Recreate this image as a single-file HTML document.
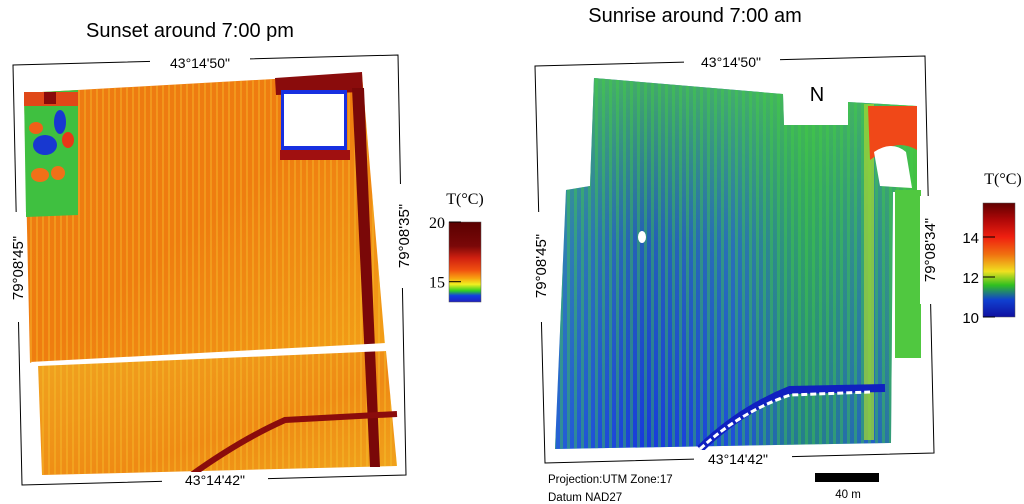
<!DOCTYPE html>
<html><head><meta charset="utf-8"><style>
html,body{margin:0;padding:0;background:#fff;width:1024px;height:504px;overflow:hidden}
svg{display:block;font-family:"Liberation Sans",sans-serif}
.serif{font-family:"Liberation Serif",serif}
</style></head><body>
<svg width="1024" height="504" viewBox="0 0 1024 504">
<defs>
<linearGradient id="warm" x1="0" y1="0" x2="1" y2="1">
<stop offset="0" stop-color="#ee7a12"/><stop offset="0.5" stop-color="#ef7d10"/><stop offset="1" stop-color="#f2a018"/></linearGradient>
<linearGradient id="warm2" x1="0" y1="0" x2="1" y2="1">
<stop offset="0" stop-color="#f0a420"/><stop offset="0.6" stop-color="#ef8a14"/><stop offset="1" stop-color="#f0a41c"/></linearGradient>
<linearGradient id="cool" x1="0" y1="0" x2="1" y2="0">
<stop offset="0" stop-color="#2c70d8"/><stop offset="0.25" stop-color="#1a3ce0"/><stop offset="0.5" stop-color="#2258dc"/><stop offset="0.7" stop-color="#2c9a70"/><stop offset="0.88" stop-color="#2a70c0"/><stop offset="1" stop-color="#40c040"/></linearGradient>
<linearGradient id="coolv" x1="0" y1="0" x2="0" y2="1">
<stop offset="0" stop-color="#50d040" stop-opacity="0.75"/><stop offset="0.45" stop-color="#40c040" stop-opacity="0.25"/><stop offset="1" stop-color="#1030d0" stop-opacity="0.25"/></linearGradient>
<pattern id="rowsW" width="6" height="10" patternUnits="userSpaceOnUse"><rect width="2" height="10" fill="#f6c830" opacity="0.35"/></pattern>
<pattern id="rowsC" width="7" height="10" patternUnits="userSpaceOnUse"><rect width="3" height="10" fill="#40d040" opacity="0.4"/></pattern>
<linearGradient id="cb1" x1="0" y1="0" x2="0" y2="1">
<stop offset="0" stop-color="#5a0000"/><stop offset="0.3" stop-color="#7a0808"/><stop offset="0.45" stop-color="#d02010"/><stop offset="0.6" stop-color="#f05010"/><stop offset="0.7" stop-color="#f8a010"/><stop offset="0.78" stop-color="#f0f020"/><stop offset="0.86" stop-color="#30d020"/><stop offset="0.92" stop-color="#1040e0"/><stop offset="1" stop-color="#2020c0"/></linearGradient>
<linearGradient id="cb2" x1="0" y1="0" x2="0" y2="1">
<stop offset="0" stop-color="#600000"/><stop offset="0.15" stop-color="#b00808"/><stop offset="0.3" stop-color="#f02010"/><stop offset="0.45" stop-color="#f07010"/><stop offset="0.6" stop-color="#f0e020"/><stop offset="0.72" stop-color="#30c020"/><stop offset="0.85" stop-color="#1040d0"/><stop offset="1" stop-color="#1010a0"/></linearGradient>
</defs>

<text x="190" y="37" font-size="20" text-anchor="middle">Sunset around 7:00 pm</text>
<text x="695" y="22" font-size="20" text-anchor="middle">Sunrise around 7:00 am</text>

<g>
<polygon points="13,65 398,55 406,475 22,485 13,65" fill="none" stroke="#000" stroke-width="1"/>
<polygon points="24,93 362,74 385,345 30,363" fill="url(#warm)"/>
<polygon points="38,364 386,351 397,466 42,475" fill="url(#warm2)"/>
<polygon points="24,93 362,74 385,345 30,363" fill="url(#rowsW)"/>
<polygon points="38,364 386,351 397,466 42,475" fill="url(#rowsW)"/>
<polygon points="24,93 78,90 78,215 26,217" fill="#3fc040"/>
<ellipse cx="45" cy="145" rx="12" ry="10" fill="#1838d0"/><ellipse cx="60" cy="122" rx="6" ry="12" fill="#1838d0"/>
<ellipse cx="36" cy="128" rx="7" ry="6" fill="#f06018"/><ellipse cx="68" cy="140" rx="6" ry="8" fill="#e83818"/>
<ellipse cx="40" cy="175" rx="9" ry="7" fill="#f07018"/><ellipse cx="58" cy="173" rx="7" ry="7" fill="#f07018"/>
<rect x="24" y="92" width="54" height="14" fill="#e04818"/><rect x="44" y="92" width="12" height="12" fill="#8a0a0a"/>
<polygon points="275,78 362,72 363,92 276,95" fill="#8a0c0c"/>
<rect x="281" y="90" width="66" height="60" fill="#1830e0"/>
<rect x="284" y="94" width="60" height="52" fill="#fff"/>
<rect x="280" y="150" width="70" height="10" fill="#a01010"/>
<polygon points="352,88 364,88 380,467 370,467" fill="#7a0808"/>
<path d="M190,476 Q240,440 285,420 L397,414" stroke="#8a0c0c" stroke-width="6" fill="none"/>
<polygon points="30,362 386,343 386,351 38,366" fill="#fff"/>
<rect x="150" y="55" width="100" height="15" fill="#fff"/>
<text x="200" y="68" font-size="14" text-anchor="middle">43°14'50"</text>
<rect x="162" y="472" width="106" height="15" fill="#fff"/>
<text x="215" y="485" font-size="14" text-anchor="middle">43°14'42"</text>
<rect x="8" y="212" width="18" height="110" fill="#fff"/>
<text x="0" y="0" font-size="15" text-anchor="middle" transform="translate(23,268) rotate(-90)">79°08'45"</text>
<rect x="394" y="184" width="18" height="104" fill="#fff"/>
<text x="0" y="0" font-size="15" text-anchor="middle" transform="translate(409,236) rotate(-90)">79°08'35"</text>
</g>

<g id="cbar1">
<text x="465" y="204" font-size="16" text-anchor="middle" class="serif">T(°C)</text>
<rect x="449" y="222" width="32" height="80" fill="url(#cb1)" stroke="#555" stroke-width="0.5"/>
</g>

<g>
<polygon points="535,66 925,56 934,453 545,463 535,66" fill="none" stroke="#000" stroke-width="1"/>
<polygon points="594,78 783,94 784,125 848,125 848,102 917,106 917,192 893,192 891,443 555,449 566,190 590,186" fill="url(#cool)"/>
<polygon points="594,78 783,94 784,125 848,125 848,102 917,106 917,192 893,192 891,443 555,449 566,190 590,186" fill="url(#coolv)"/>
<polygon points="594,78 783,94 784,125 848,125 848,102 917,106 917,192 893,192 891,443 555,449 566,190 590,186" fill="url(#rowsC)"/>
<rect x="895" y="190" width="26" height="168" fill="#50c840"/>
<rect x="864" y="104" width="10" height="336" fill="#a0d830" opacity="0.75"/>
<path d="M868,106 L917,106 L917,150 Q900,140 884,150 L870,160 Z" fill="#f04818"/>
<path d="M874,152 Q892,140 906,152 L912,188 L880,186 Z" fill="#fff"/>
<path d="M700,449 Q740,410 790,390 L885,388" stroke="#1020c0" stroke-width="8" fill="none"/>
<path d="M700,449 Q740,412 790,395 L870,392" stroke="#fff" stroke-width="3" fill="none" stroke-dasharray="6 3"/>
<ellipse cx="642" cy="237" rx="4" ry="6" fill="#fff"/>
<text x="817" y="101" font-size="20" text-anchor="middle">N</text>
<rect x="684" y="55" width="96" height="15" fill="#fff"/>
<text x="731" y="67" font-size="14" text-anchor="middle">43°14'50"</text>
<rect x="694" y="450" width="98" height="15" fill="#fff"/>
<text x="738" y="464" font-size="14" text-anchor="middle">43°14'42"</text>
<rect x="531" y="212" width="18" height="110" fill="#fff"/>
<text x="0" y="0" font-size="15" text-anchor="middle" transform="translate(546,266) rotate(-90)">79°08'45"</text>
<rect x="920" y="196" width="18" height="108" fill="#fff"/>
<text x="0" y="0" font-size="15" text-anchor="middle" transform="translate(935,250) rotate(-90)">79°08'34"</text>
<text x="548" y="483" font-size="11.5">Projection:UTM  Zone:17</text>
<text x="548" y="501" font-size="11.5">Datum NAD27</text>
<rect x="815" y="473" width="64" height="9" fill="#000"/>
<text x="848" y="498" font-size="11.5" text-anchor="middle">40 m</text>
</g>

<g id="cbar2">
<text x="1003" y="184" font-size="16" text-anchor="middle" class="serif">T(°C)</text>
<rect x="983" y="203" width="32" height="114" fill="url(#cb2)" stroke="#555" stroke-width="0.5"/>
</g>
</svg>
<script>
const cb1Ticks = [20, 15];
const cb1Range = [13.3, 20];
const cb2Ticks = [14, 12, 10];
const cb2Range = [10, 15.7];
function addTicks(gid, ticks, range, x0, y0, h, font, cls) {
  const g = document.getElementById(gid);
  const scale = v => y0 + h - (v - range[0]) / (range[1] - range[0]) * h;
  ticks.forEach(v => {
    const t = document.createElementNS('http://www.w3.org/2000/svg', 'text');
    t.setAttribute('x', x0 - 4);
    t.setAttribute('y', scale(v) + 6);
    t.setAttribute('font-size', font);
    t.setAttribute('text-anchor', 'end');
    if (cls) t.setAttribute('class', cls);
    t.textContent = v;
    
    
    g.appendChild(t);
    const l = document.createElementNS('http://www.w3.org/2000/svg', 'line');
    l.setAttribute('x1', x0); l.setAttribute('x2', x0 + 12);
    l.setAttribute('y1', scale(v)); l.setAttribute('y2', scale(v));
    l.setAttribute('stroke', '#000');
    
    
    g.appendChild(l);
  });
}
addTicks('cbar1', cb1Ticks, cb1Range, 449, 222, 80, 16, 'serif');
addTicks('cbar2', cb2Ticks, cb2Range, 983, 203, 114, 15, '');
</script>
</body></html>
